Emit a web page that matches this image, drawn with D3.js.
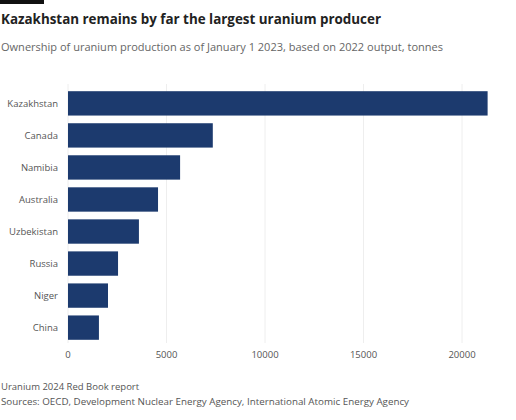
<!DOCTYPE html>
<html><head><meta charset="utf-8">
<script src="https://cdn.jsdelivr.net/npm/d3@7"></script>
<style>body{margin:0;background:#fff;font-family:"Open Sans",sans-serif}</style>
</head><body><div id="chart"></div>
<script>
const countries = ['Kazakhstan', 'Canada', 'Namibia', 'Australia', 'Uzbekistan', 'Russia', 'Niger', 'China']
const tonnes = [21300, 7350, 5690, 4570, 3600, 2540, 2030, 1570]
const ticks = [0, 5000, 10000, 15000, 20000]

const width = 516, height = 420
const svg = d3.select('#chart').append('svg').attr('width', width).attr('height', height)

svg.append('rect').attr('x', 0).attr('y', 0).attr('width', 44).attr('height', 4).attr('fill', '#111')
svg.append('text').attr('x', 1).attr('y', 24).attr('font-size', 15).attr('font-weight', 700)
  .attr('textLength', 380).attr('lengthAdjust', 'spacingAndGlyphs')
  .attr('fill', '#222').text('Kazakhstan remains by far the largest uranium producer')
svg.append('text').attr('x', 1).attr('y', 51).attr('font-size', 10.5).attr('fill', '#666')
  .attr('textLength', 442).attr('lengthAdjust', 'spacingAndGlyphs')
  .text('Ownership of uranium production as of January 1 2023, based on 2022 output, tonnes')

const x = d3.scaleLinear().domain([0, 20000]).range([68, 462])
const y = d3.scaleBand().domain(countries).range([88, 343]).paddingInner(0.24).paddingOuter(0.1)

svg.append('g').selectAll('line').data(ticks).join('line')
  .attr('x1', d => x(d)).attr('x2', d => x(d)).attr('y1', 84).attr('y2', 343)
  .attr('stroke', '#eee')

svg.append('g').selectAll('rect').data(tonnes).join('rect')
  .attr('x', x(0)).attr('y', (d, i) => y(countries[i]))
  .attr('width', d => x(d) - x(0)).attr('height', y.bandwidth())
  .attr('fill', '#1c3a6e')

svg.append('g').selectAll('text').data(countries).join('text')
  .attr('x', 58).attr('y', d => y(d) + y.bandwidth() / 2 + 3.5)
  .attr('text-anchor', 'end').attr('font-size', 9.5).attr('fill', '#555').text(d => d)

svg.append('g').selectAll('text').data(ticks).join('text')
  .attr('x', d => x(d)).attr('y', 358).attr('text-anchor', 'middle')
  .attr('font-size', 9.5).attr('fill', '#555').text(d => d)

svg.append('text').attr('x', 1).attr('y', 390).attr('font-size', 9.5).attr('fill', '#555')
  .text('Uranium 2024 Red Book report')
svg.append('text').attr('x', 1).attr('y', 405).attr('font-size', 9.5).attr('fill', '#555')
  .attr('textLength', 408).attr('lengthAdjust', 'spacingAndGlyphs')
  .text('Sources: OECD, Development Nuclear Energy Agency, International Atomic Energy Agency')
</script></body></html>
